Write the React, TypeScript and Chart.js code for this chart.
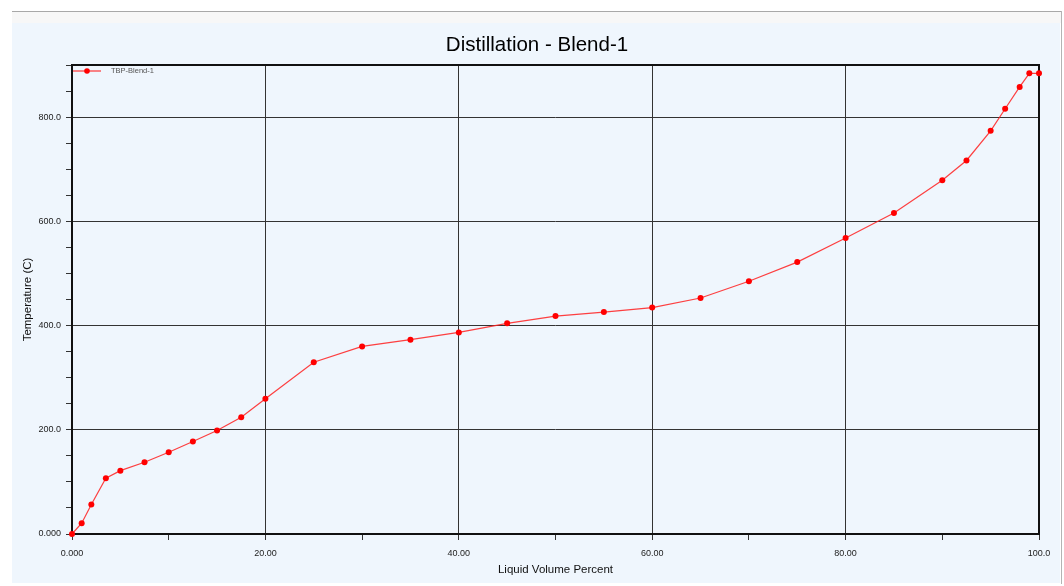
import React, { useEffect, useRef } from "react";
import { Chart, registerables } from "chart.js";

Chart.register(...registerables);

// TBP curve for Blend-1: liquid volume percent vs. temperature (C)
const volumePercent = [
  0, 1, 2, 3.5, 5, 7.5, 10, 12.5, 15, 17.5, 20, 25, 30, 35, 40, 45, 50, 55, 60,
  65, 70, 75, 80, 85, 90, 92.5, 95, 96.5, 98, 99, 100,
];
const temperatureC = [
  0, 20.6, 56.5, 107, 121.6, 137.6, 156.8, 177.5, 198.5, 224, 259.6, 329.5, 360,
  373, 386.8, 404.2, 418.2, 425.9, 434.5, 452.8, 485, 521.8, 568.1, 616, 679,
  716.8, 773.7, 816, 858, 884, 884,
];

const xTickLabels = ["0.000", "20.00", "40.00", "60.00", "80.00", "100.0"];
const yTickLabels = ["0.000", "200.0", "400.0", "600.0", "800.0"];

const seriesName = "TBP-Blend-1";
const chartTitle = "Distillation - Blend-1";
const xAxisTitle = "Liquid Volume Percent";
const yAxisTitle = "Temperature (C)";

const FONT = "'Liberation Sans', Arial, Helvetica, sans-serif";

// Plot frame under the data; legend in the top-left corner and the
// title centred over the whole panel on top
const framePlugin = {
  id: "plotFrame",
  beforeDatasetsDraw(chart: any) {
    const { ctx, chartArea: a } = chart;
    ctx.save();
    ctx.strokeStyle = "#111";
    ctx.lineWidth = 2;
    ctx.strokeRect(a.left, a.top, a.right - a.left, a.bottom - a.top);
    ctx.restore();
  },
  afterDatasetsDraw(chart: any) {
    const { ctx, chartArea: a, width } = chart;
    const y = a.top + 6;
    ctx.save();
    ctx.strokeStyle = "rgba(255,30,30,0.9)";
    ctx.lineWidth = 1.2;
    ctx.beginPath();
    ctx.moveTo(a.left + 1, y);
    ctx.lineTo(a.left + 29, y);
    ctx.stroke();
    ctx.fillStyle = "#ff0000";
    ctx.beginPath();
    ctx.arc(a.left + 15, y, 2.8, 0, Math.PI * 2);
    ctx.fill();
    ctx.fillStyle = "#555";
    ctx.font = `7.5px ${FONT}`;
    ctx.textBaseline = "middle";
    ctx.textAlign = "left";
    ctx.fillText(seriesName, a.left + 39, y);

    ctx.fillStyle = "#000";
    ctx.font = `20.5px ${FONT}`;
    ctx.textAlign = "center";
    ctx.fillText(chartTitle, width / 2 + 1, 22);
    ctx.restore();
  },
};

export default function App() {
  const canvasRef = useRef<HTMLCanvasElement>(null);

  useEffect(() => {
    document.body.style.margin = "0";
    const canvas = canvasRef.current;
    if (!canvas) return;

    const points = volumePercent.map((x, i) => ({ x, y: temperatureC[i] }));

    const chart = new Chart(canvas, {
      type: "line",
      data: {
        datasets: [
          {
            label: seriesName,
            data: points,
            borderColor: "rgba(255,30,30,0.85)",
            borderWidth: 1.2,
            pointBackgroundColor: "#ff0000",
            pointBorderWidth: 0,
            pointRadius: 3,
            fill: false,
            tension: 0,
            clip: false as any,
          },
        ],
      },
      options: {
        animation: false,
        responsive: false,
        maintainAspectRatio: false,
        devicePixelRatio: 1,
        layout: { padding: { left: 0, right: 21, top: 42, bottom: 0 } },
        plugins: {
          legend: { display: false },
          tooltip: { enabled: false },
          title: { display: false },
        },
        scales: {
          x: {
            type: "linear",
            min: 0,
            max: 100,
            afterFit(scale: any) {
              scale.height = 49;
            },
            ticks: {
              stepSize: 10,
              autoSkip: false,
              maxRotation: 0,
              padding: 8,
              color: "#222",
              font: { family: FONT, size: 9 },
              callback: (v: any) =>
                Number(v) % 20 === 0 ? xTickLabels[Math.round(Number(v) / 20)] : "",
            },
            grid: {
              color: (c: any) =>
                c.tick && c.tick.value % 20 === 0 ? "#333" : "rgba(0,0,0,0)",
              tickColor: "#333",
              tickLength: 6,
              lineWidth: 1,
            },
            border: { display: false },
            title: {
              display: true,
              text: xAxisTitle,
              color: "#111",
              font: { family: FONT, size: 11.5 },
              padding: { top: 0, bottom: 6 },
            },
          },
          y: {
            type: "linear",
            min: 0,
            max: 900,
            afterFit(scale: any) {
              scale.width = 60;
            },
            ticks: {
              stepSize: 50,
              autoSkip: false,
              padding: 5,
              color: "#222",
              font: { family: FONT, size: 9 },
              callback: (v: any) =>
                Number(v) % 200 === 0 ? yTickLabels[Math.round(Number(v) / 200)] : "",
            },
            grid: {
              color: (c: any) =>
                c.tick && c.tick.value % 200 === 0 ? "#333" : "rgba(0,0,0,0)",
              tickColor: "#333",
              tickLength: 6,
              lineWidth: 1,
            },
            border: { display: false },
            title: {
              display: true,
              text: yAxisTitle,
              color: "#111",
              font: { family: FONT, size: 11.5 },
              padding: { top: 9, bottom: 0 },
            },
          },
        },
      },
      plugins: [framePlugin],
    });

    return () => chart.destroy();
  }, []);

  return (
    <div
      style={{
        position: "absolute",
        left: 0,
        top: 0,
        width: 1064,
        height: 586,
        background: "#fff",
        overflow: "hidden",
      }}
    >
      <div style={{ position: "absolute", left: 12, top: 11, width: 1050, height: 1, background: "#a8a8a8" }} />
      <div style={{ position: "absolute", left: 12, top: 12, width: 1049, height: 11, background: "#f7f7f7" }} />
      <div style={{ position: "absolute", left: 1061, top: 11, width: 1, height: 573, background: "#b4b4b4" }} />
      <div style={{ position: "absolute", left: 12, top: 23, width: 1048, height: 560, background: "#eff6fd" }}>
        <canvas ref={canvasRef} width={1048} height={560} style={{ display: "block" }} />
      </div>
    </div>
  );
}
